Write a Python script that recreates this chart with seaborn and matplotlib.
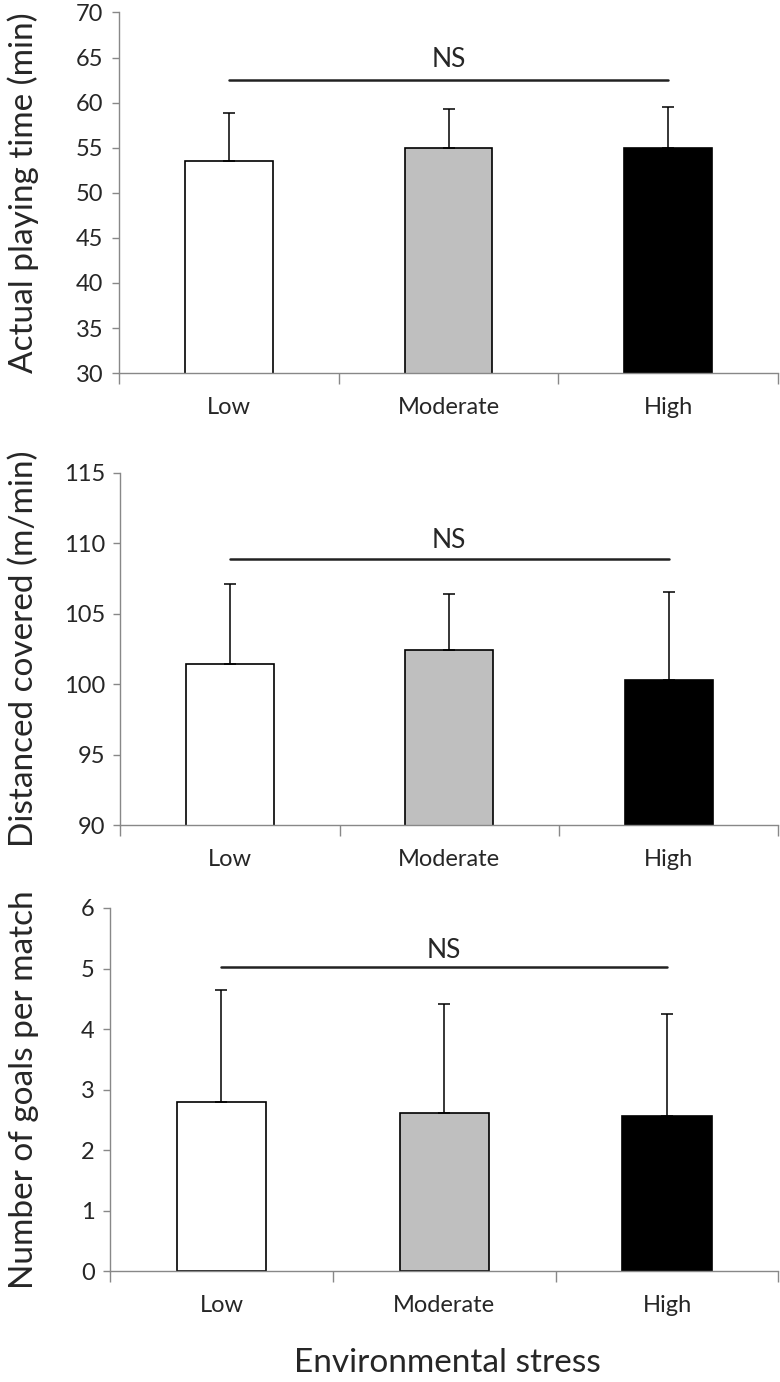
import numpy as np
import pandas as pd
import seaborn as sns
import matplotlib.pyplot as plt

# data
stress = ['Low', 'Moderate', 'High']
bar_colors = ['#ffffff', '#bfbfbf', '#000000']

playing_time = [53.5, 55.0, 55.0]
playing_time_sd = [5.4, 4.3, 4.5]

distance = [101.4, 102.4, 100.3]
distance_sd = [5.7, 4.0, 6.2]

goals = [2.79, 2.61, 2.57]
goals_sd = [1.86, 1.81, 1.68]

sns.set_style('ticks')
plt.rcParams['font.family'] = ['Lato', 'DejaVu Sans']

fig = plt.figure(figsize=(7.8, 13.82), dpi=100)

panels = [
    # values, sd, ylabel, ylim, yticks, ns line y, ns text baseline, axes rect
    (playing_time, playing_time_sd, 'Actual playing time (min)', (30, 70),
     np.arange(30, 71, 5), 62.5, 63.9, [0.152, 0.730, 0.846, 0.261]),
    (distance, distance_sd, 'Distanced covered (m/min)', (90, 115),
     np.arange(90, 116, 5), 108.9, 109.65, [0.154, 0.403, 0.844, 0.255]),
    (goals, goals_sd, 'Number of goals per match', (0, 6),
     np.arange(0, 7, 1), 5.02, 5.18, [0.141, 0.080, 0.857, 0.263]),
]

for vals, sd, ylab, ylim, yticks, ns_y, ns_txt_y, rect in panels:
    ax = fig.add_axes(rect)
    df = pd.DataFrame({'stress': stress, 'value': vals})
    sns.barplot(data=df, x='stress', y='value', hue='stress', palette=bar_colors,
                edgecolor='black', linewidth=1.2, width=0.4, legend=False, ax=ax)
    ax.errorbar(range(len(stress)), vals, yerr=[np.zeros(len(sd)), sd], fmt='none',
                ecolor='black', elinewidth=1.1, capsize=4, capthick=1.1, zorder=3)

    # NS bracket
    ax.plot([0, 2], [ns_y, ns_y], color='#222222', lw=1.8)
    ax.text(1, ns_txt_y, 'NS', ha='center', va='baseline', fontsize=19)

    ax.set_ylim(*ylim)
    ax.set_yticks(yticks)
    ax.set_xlim(-0.5, 2.5)
    ax.set_xticks([-0.5, 0.5, 1.5, 2.5])
    ax.set_xticklabels([])
    ax.set_xticks([0, 1, 2], minor=True)
    ax.set_xticklabels(stress, minor=True)
    ax.tick_params(axis='x', which='major', length=8, color='#888888', width=1)
    ax.tick_params(axis='x', which='minor', length=0, pad=17, labelsize=17)
    ax.tick_params(axis='y', length=5, color='#888888', width=1, pad=6, labelsize=17)

    sns.despine(ax=ax, top=True, right=True)
    for s in ['left', 'bottom']:
        ax.spines[s].set_color('#888888')
        ax.spines[s].set_linewidth(1)

    ax.set_xlabel('')
    ax.set_ylabel(ylab, fontsize=24)
    left_px = rect[0] * 780
    ax.yaxis.set_label_coords((39 - left_px) / (rect[2] * 780), 0.5)

fig.text(0.574, 0.0075, 'Environmental stress', ha='center', va='baseline', fontsize=24)

fig.savefig('out.png', dpi=100)
